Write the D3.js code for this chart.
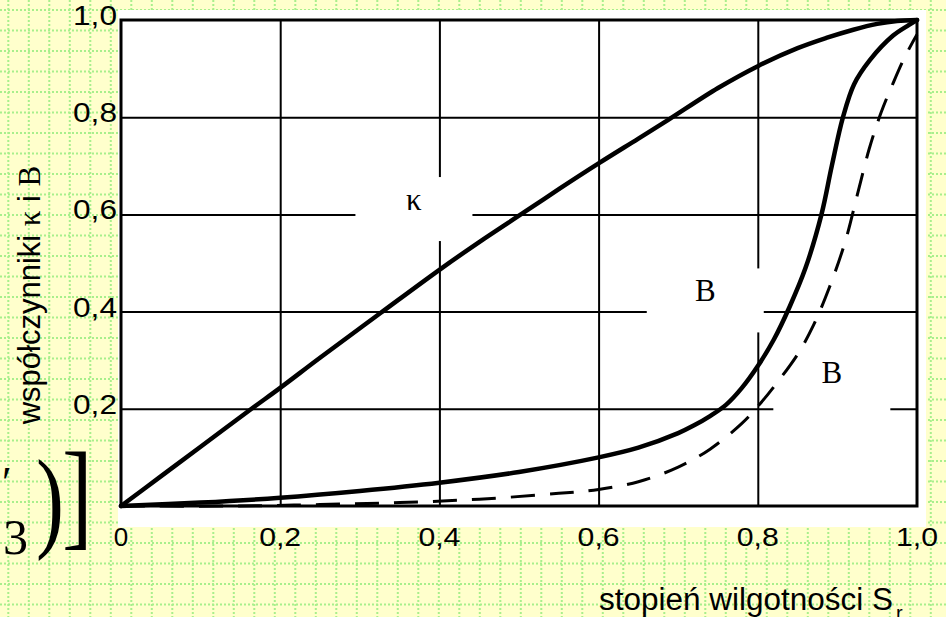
<!DOCTYPE html>
<html>
<head>
<meta charset="utf-8">
<script src="https://cdn.jsdelivr.net/npm/d3@7"></script>
<style>
  html, body { margin: 0; padding: 0; background: #ffffcc; }
  svg { display: block; }
</style>
</head>
<body>
<svg id="chart" width="946" height="617"></svg>
<script>
// Coefficient κ versus degree of saturation S_r
const kappaSr  = [0, 0.05, 0.1, 0.164, 0.2, 0.25, 0.326, 0.4, 0.45, 0.508, 0.55, 0.6, 0.65, 0.688, 0.75, 0.8, 0.85, 0.886, 0.92, 0.95, 0.975, 1.0];
const kappaVal = [0, 0.061, 0.122, 0.2, 0.243, 0.305, 0.397, 0.486, 0.543, 0.606, 0.652, 0.705, 0.756, 0.795, 0.86, 0.905, 0.942, 0.963, 0.98, 0.992, 0.998, 1.0];

// Pore pressure coefficient B, solid curve
const bSolidSr  = [0, 0.1, 0.2, 0.3, 0.4, 0.5, 0.6, 0.65, 0.7, 0.72, 0.74, 0.76, 0.78, 0.8, 0.82, 0.84, 0.86, 0.88, 0.893, 0.907, 0.921, 0.941, 0.97, 0.99, 1.0];
const bSolidVal = [0, 0.007, 0.017, 0.031, 0.048, 0.07, 0.1, 0.12, 0.15, 0.166, 0.185, 0.208, 0.243, 0.288, 0.342, 0.41, 0.49, 0.6, 0.7, 0.8, 0.868, 0.918, 0.968, 0.99, 1.0];

// Pore pressure coefficient B, dashed curve
const bDashedSr  = [0, 0.15, 0.25, 0.35, 0.45, 0.55, 0.6, 0.65, 0.7, 0.74, 0.78, 0.8, 0.82, 0.85, 0.87, 0.89, 0.91, 0.925, 0.94, 0.955, 0.97, 0.985, 1.0];
const bDashedVal = [0, 0, 0.003, 0.007, 0.014, 0.026, 0.034, 0.05, 0.08, 0.117, 0.17, 0.205, 0.245, 0.312, 0.372, 0.45, 0.545, 0.64, 0.735, 0.81, 0.87, 0.925, 0.97];

// Axis ticks
const xTicks = [0, 0.2, 0.4, 0.6, 0.8, 1.0];
const xTickLabels = ["0", "0,2", "0,4", "0,6", "0,8", "1,0"];
const yTicks = [0.2, 0.4, 0.6, 0.8, 1.0];
const yTickLabels = ["0,2", "0,4", "0,6", "0,8", "1,0"];
const gridSteps = [0.2, 0.4, 0.6, 0.8];

// Curve labels, placed at (S_r, value)
const curveLabels   = ["κ", "B", "B"];
const curveLabelSr  = [0.368, 0.734, 0.893];
const curveLabelVal = [0.611, 0.423, 0.255];

const W = 946, H = 617;
const svg = d3.select("#chart");

// ---- slide background: pale yellow with dotted green grid ----
const bg = svg.append("g");
bg.append("rect").attr("width", W).attr("height", H).attr("fill", "#ffffcc");
const dotColor = "#a8ef8c";
bg.selectAll("line.v").data(d3.range(8.3, W, 20.5)).join("line")
  .attr("x1", d => d).attr("x2", d => d).attr("y1", 0).attr("y2", H)
  .attr("stroke", dotColor).attr("stroke-width", 2).attr("stroke-dasharray", "2 2");
bg.selectAll("line.h").data(d3.range(10, H, 20.5)).join("line")
  .attr("y1", d => d).attr("y2", d => d).attr("x1", 0).attr("x2", W)
  .attr("stroke", dotColor).attr("stroke-width", 2).attr("stroke-dasharray", "2 2");

// white picture panel
svg.append("rect").attr("x", 118).attr("y", 10).attr("width", 808).attr("height", 517).attr("fill", "#ffffff");

// ---- scales ----
const x = d3.scaleLinear().domain([0, 1]).range([121, 917]);
const y = d3.scaleLinear().domain([0, 1]).range([506, 20]);

// ---- grid ----
const grid = svg.append("g");
grid.append("g")
  .attr("transform", `translate(0,${y(0)})`)
  .call(d3.axisBottom(x).tickValues(gridSteps).tickSize(-(y(0) - y(1))).tickFormat(""))
  .call(g => g.select(".domain").remove())
  .call(g => g.selectAll("line").attr("stroke", "#000").attr("stroke-width", 2));
grid.append("g")
  .attr("transform", `translate(${x(0)},0)`)
  .call(d3.axisLeft(y).tickValues(gridSteps).tickSize(-(x(1) - x(0))).tickFormat(""))
  .call(g => g.select(".domain").remove())
  .call(g => g.selectAll("line").attr("stroke", "#000").attr("stroke-width", 2));

// white boxes behind curve labels interrupt the grid
const boxW = 117, boxH = 64;
svg.append("g").selectAll("rect").data(curveLabels).join("rect")
  .attr("x", (d, i) => x(curveLabelSr[i]) - boxW / 2)
  .attr("y", (d, i) => y(curveLabelVal[i]) - boxH / 2)
  .attr("width", boxW).attr("height", boxH).attr("fill", "#fff");

// frame
svg.append("rect")
  .attr("x", x(0)).attr("y", y(1))
  .attr("width", x(1) - x(0)).attr("height", y(0) - y(1))
  .attr("fill", "none").attr("stroke", "#000").attr("stroke-width", 3);

// ---- curves ----
const line = d3.line().x(d => x(d[0])).y(d => y(d[1])).curve(d3.curveCatmullRom.alpha(0.5));
const curves = svg.append("g").attr("fill", "none").attr("stroke", "#000")
  .attr("stroke-linecap", "round").attr("stroke-linejoin", "round");
curves.append("path").attr("d", line(d3.zip(kappaSr, kappaVal))).attr("stroke-width", 4.5);
curves.append("path").attr("d", line(d3.zip(bSolidSr, bSolidVal))).attr("stroke-width", 4.5);
curves.append("path").attr("d", line(d3.zip(bDashedSr, bDashedVal)))
  .attr("stroke-width", 3).attr("stroke-linecap", "butt").attr("stroke-dasharray", "24 15");

// curve labels
svg.append("g").selectAll("text").data(curveLabels).join("text")
  .attr("x", (d, i) => x(curveLabelSr[i]))
  .attr("y", (d, i) => y(curveLabelVal[i]) + 1)
  .attr("text-anchor", "middle")
  .attr("font-family", "'Liberation Serif', 'Times New Roman', serif")
  .attr("font-size", 31)
  .attr("fill", "#000")
  .text(d => d);

// ---- axis tick labels ----
const sans = "'Liberation Sans', Arial, Helvetica, sans-serif";
svg.append("g").selectAll("text").data(xTicks).join("text")
  .attr("x", d => x(d))
  .attr("y", 546)
  .attr("text-anchor", "middle")
  .attr("font-family", sans).attr("font-size", 26).attr("fill", "#000")
  .each(function (d, i) {
    const t = d3.select(this).text(xTickLabels[i]);
    if (xTickLabels[i].length > 1) t.attr("textLength", 42).attr("lengthAdjust", "spacingAndGlyphs");
  });

svg.append("g").selectAll("text").data(yTicks).join("text")
  .attr("x", 117)
  .attr("y", d => y(d) + 5)
  .attr("text-anchor", "end")
  .attr("font-family", sans).attr("font-size", 28).attr("fill", "#000")
  .attr("textLength", 44).attr("lengthAdjust", "spacingAndGlyphs")
  .text((d, i) => yTickLabels[i]);

// ---- axis titles ----
const xTitle = svg.append("text")
  .attr("x", 599).attr("y", 610)
  .attr("font-family", sans).attr("font-size", 31).attr("fill", "#000");
xTitle.append("tspan").attr("textLength", 294).attr("lengthAdjust", "spacingAndGlyphs")
  .text("stopień wilgotności S");
xTitle.append("tspan").attr("x", 896).attr("y", 620).attr("font-size", 20).text("r");

const yTitle = svg.append("text")
  .attr("transform", "translate(40,295) rotate(-90)")
  .attr("text-anchor", "middle")
  .attr("font-family", sans).attr("font-size", 31).attr("fill", "#000");
yTitle.append("tspan").text("współczynniki ");
yTitle.append("tspan").attr("font-family", "'Liberation Serif', serif").text("κ");
yTitle.append("tspan").text(" i ");
yTitle.append("tspan").attr("font-family", "'Liberation Serif', serif").text("B");

// ---- tail of the formula on the slide, cut by the left edge ----
const serif = "'Liberation Serif', 'Times New Roman', serif";
const formula = svg.append("g").attr("fill", "#000").attr("font-family", serif);
formula.append("text").attr("x", 2).attr("y", 497).attr("font-size", 44).text("′");
formula.append("text").attr("x", 3).attr("y", 554).attr("font-size", 50).text("3");
formula.append("text").attr("transform", "translate(36,537) scale(0.75,1)").attr("font-size", 112).text(")");
formula.append("text").attr("transform", "translate(62,534) scale(0.78,1)").attr("font-size", 118).text("]");
</script>
</body>
</html>
